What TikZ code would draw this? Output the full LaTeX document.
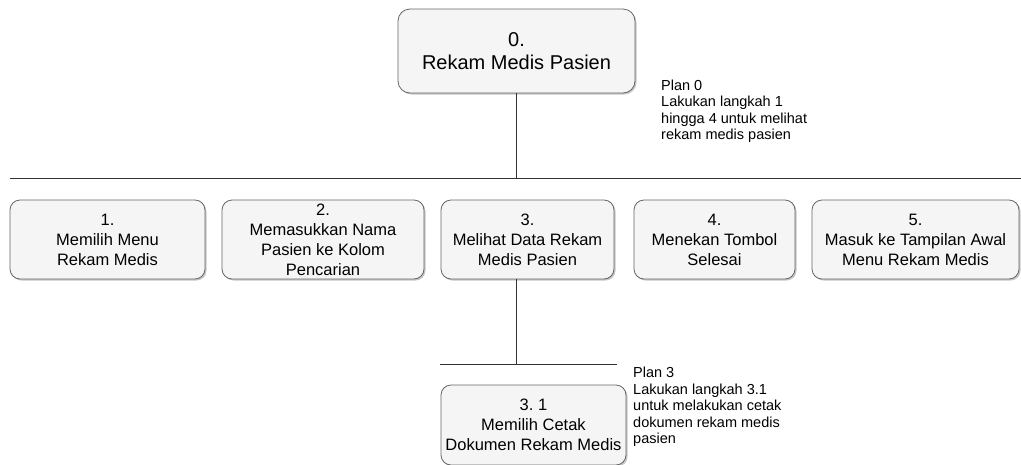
\documentclass[tikz,border=0pt]{standalone}
\usepackage{fontspec}
\setmainfont{Liberation Sans}
\frenchspacing
\usetikzlibrary{shadows}
\definecolor{boxfill}{HTML}{F5F5F5}
\definecolor{boxline}{HTML}{666666}
\definecolor{barline}{HTML}{333333}
\begin{document}
\begin{tikzpicture}[x=1pt, y=-1pt,
    task/.style={draw=boxline, fill=boxfill, line width=0.8pt, rounded corners=10pt,
      align=center, inner sep=0pt, minimum height=79pt,
      drop shadow={shadow xshift=1.5pt, shadow yshift=-1.5pt, fill=black!45, opacity=0.5},
      font=\fontsize{16.5}{20}\selectfont},
    plan/.style={anchor=north west, align=left, inner sep=0pt,
      font=\fontsize{14.5}{16.5}\selectfont},
    bar/.style={draw=barline, line width=0.8pt}]
  \useasboundingbox (0,0) rectangle (1021,464);
  % top task
  \node[task, minimum width=237pt, minimum height=84pt, rounded corners=12pt,
    font=\fontsize{20}{23.5}\selectfont] (top) at (516.5,51) {0.\\Rekam Medis Pasien};
  \node[plan] (plan0) at (661,79.5) {Plan 0\\Lakukan langkah 1\\hingga 4 untuk melihat\\rekam medis pasien};
  \coordinate (bar0l) at (10,178);
  \coordinate (bar0r) at (1021,178);
  \draw[bar] (top.south) -- (top.south |- bar0l);
  \draw[bar] (bar0l) -- (bar0r);
  % sub tasks
  \node[task, minimum width=195pt] (b1) at (107.5,239.5) {1.\\Memilih Menu\\Rekam Medis};
  \node[task, minimum width=202pt] (b2) at (323,239.5) {2.\\Memasukkan Nama\\Pasien ke Kolom\\Pencarian};
  \node[task, minimum width=173pt] (b3) at (527.5,239.5) {3.\\Melihat Data Rekam\\Medis Pasien};
  \node[task, minimum width=161pt] (b4) at (714.5,239.5) {4.\\Menekan Tombol\\Selesai};
  \node[task, minimum width=207pt] (b5) at (915.5,239.5) {5.\\Masuk ke Tampilan Awal\\Menu Rekam Medis};
  % plan 3
  \coordinate (drop3) at (516,364);
  \coordinate (bar3l) at (440,364);
  \coordinate (bar3r) at (617,364);
  \draw[bar] (b3.south -| drop3) -- (drop3);
  \draw[bar] (bar3l) -- (bar3r);
  \node[task, minimum width=185pt, minimum height=80pt] (b31) at (533.5,425) {3. 1\\Memilih Cetak\\Dokumen Rekam Medis};
  \node[plan] (plan3) at (633,367) {Plan 3\\Lakukan langkah 3.1\\untuk melakukan cetak\\dokumen rekam medis\\pasien};
\end{tikzpicture}
\end{document}
